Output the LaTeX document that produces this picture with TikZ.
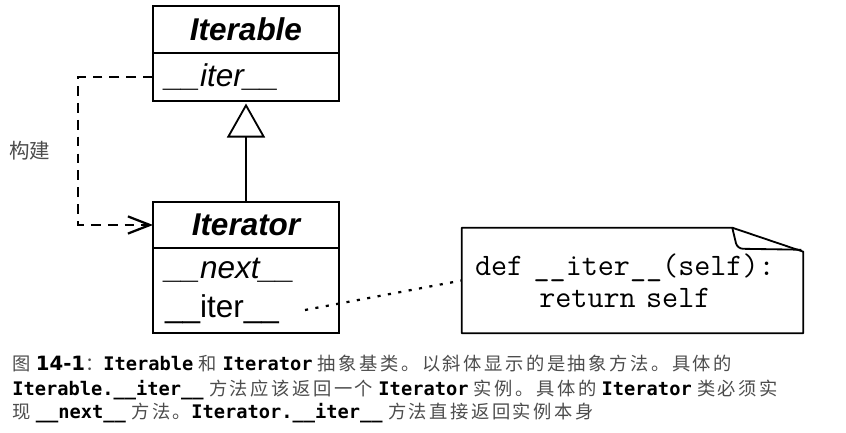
\documentclass[tikz,border=0pt]{standalone}
\usepackage{fontspec}
\setmainfont{Liberation Sans}
\newfontfamily\zhfont{Noto Sans CJK SC}
\newfontfamily\zhcapfont[LetterSpace=14]{Noto Sans CJK SC}
\newfontfamily\capmono{DejaVu Sans Mono}
\newfontfamily\capsans{DejaVu Sans}
\usepackage{tikz}
\usetikzlibrary{arrows.meta}
\usetikzlibrary{positioning}

\definecolor{capgray}{gray}{0.3}
\newcommand{\zh}[1]{{\zhcapfont\fontsize{13}{17}\selectfont\color{capgray}#1}}
\newcommand{\cd}[1]{{\capmono\bfseries\fontsize{13.3}{17}\selectfont #1}}

\begin{document}
\begin{tikzpicture}[
	classhead/.style={draw, line width=1.3pt, outer sep=0pt, inner sep=0pt, minimum width=4.65cm, minimum height=1.16cm, font=\fontsize{22.4}{27}\selectfont\bfseries\itshape},
	classbody/.style={draw, line width=1.3pt, outer sep=0pt, inner xsep=0.3cm, inner ysep=0pt, text width=4.05cm, align=left, font=\fontsize{22.4}{27.7}\selectfont},
	inherits/.style={line width=1.3pt, -{Triangle[open, length=0.85cm, width=0.95cm]}, shorten >=2pt},
	builds/.style={line width=1.6pt, dash pattern=on 7pt off 5pt, -{Straight Barb[length=0.55cm, width=0.43cm]}},
	notebox/.style={inner xsep=0.325cm, inner ysep=0pt, text width=7.875cm, minimum height=2.625cm, align=left, font=\ttfamily\fontsize{22.2}{22.8}\selectfont},
	noteline/.style={line width=1.3pt, line join=round},
	noteref/.style={line width=1.6pt, dash pattern=on 2.2pt off 5.3pt},
	captext/.style={anchor=base west, inner sep=0pt, font=\capsans\fontsize{12}{17}\selectfont}
]
	\useasboundingbox (0, 0) rectangle (21.15, 10.825);

	\node[classhead] (iterable) at (6.15, 10.0875) {Iterable};
	\node[classbody, minimum height=1.2cm, below=0pt of iterable] (iterableops) {\textit{\_\_iter\_\_}};

	\node[classhead] (iterator) at (6.15, 5.2) {Iterator};
	\node[classbody, minimum height=2.125cm, below=0pt of iterator] (iteratorops) {\textit{\_\_next\_\_}\\\_\_iter\_\_};

	\draw[inherits] (iterator.north) -- (iterableops.south);
	\draw[builds] (iterableops.west) -- ++(-1.875, 0) |- (iterator.west);
	\node[font=\zhfont\fontsize{14.6}{16}\selectfont, text=capgray] (buildlabel) at (0.74, 7.05) {构建};

	% note with folded corner
	\node[notebox] (note) at (15.8125, 3.8125) {def \_\_iter\_\_(self):\\\hphantom{xxxx}return self};
	\draw[noteline] (note.north west) -- ([xshift=-1.775cm]note.north east) -- ([yshift=-0.6cm]note.north east) -- (note.south east) -- (note.south west) -- cycle;
	\draw[noteline, rounded corners=4pt] ([xshift=-1.775cm]note.north east) -- ([xshift=-1.65cm, yshift=-0.525cm]note.north east) -- ([xshift=-0.05cm, yshift=-0.55cm]note.north east);
	\coordinate (dotfrom) at (7.625, 3.075);
	\draw[noteref] (dotfrom) -- (note.west);

	\node[captext] (cap1) at (0.3, 1.55) {\zh{图} {\bfseries\fontsize{14}{17}\selectfont 14-1}\zh{：}\cd{Iterable} \zh{和} \cd{Iterator} \zh{抽象基类。以斜体显示的是抽象方法。具体的}};
	\node[captext] (cap2) at (0.3, 0.9325) {\cd{Iterable.\_\_iter\_\_} \zh{方法应该返回一个} \cd{Iterator} \zh{实例。具体的} \cd{Iterator} \zh{类必须实}};
	\node[captext] (cap3) at (0.3, 0.35) {\zh{现} \cd{\_\_next\_\_} \zh{方法。}\cd{Iterator.\_\_iter\_\_} \zh{方法直接返回实例本身}};
\end{tikzpicture}
\end{document}
